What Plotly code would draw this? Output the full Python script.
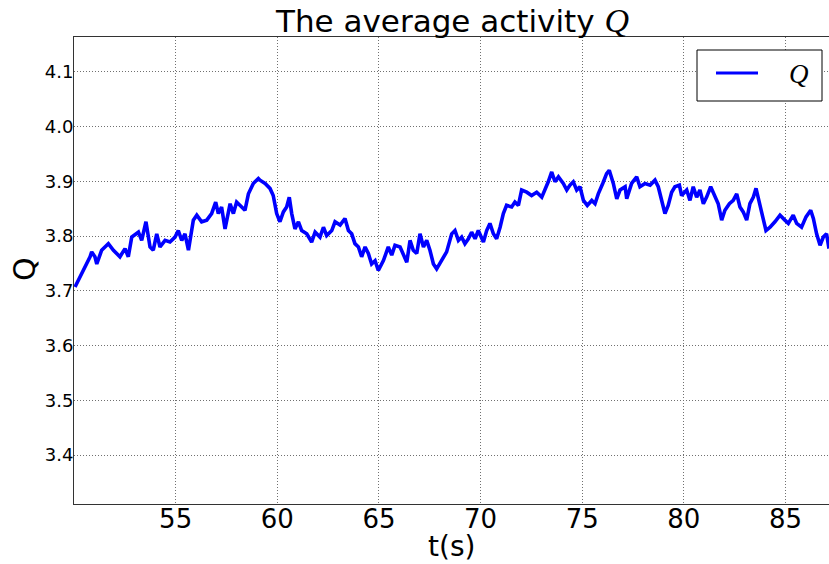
import plotly.graph_objects as go

# Time stamps (s) and average activity Q
t = [
    50.05, 50.30, 50.54, 50.79, 50.87, 51.03, 51.12, 51.36, 51.69, 51.94,
    52.26, 52.51, 52.67, 52.84, 53.17, 53.33, 53.54, 53.74, 53.90, 54.07,
    54.23, 54.48, 54.72, 54.97, 55.13, 55.30, 55.46, 55.63, 55.87, 56.04,
    56.28, 56.53, 56.77, 56.97, 57.10, 57.26, 57.43, 57.68, 57.84, 58.00,
    58.25, 58.41, 58.58, 58.82, 59.07,
    59.15, 59.40, 59.64, 59.80, 59.97, 60.13, 60.30, 60.46, 60.59, 60.71,
    60.87, 61.04, 61.20, 61.45, 61.69, 61.86, 62.10, 62.27, 62.43, 62.68,
    62.84, 63.09, 63.33, 63.50, 63.66, 63.82, 63.99, 64.15, 64.32, 64.48,
    64.64, 64.81, 64.97, 65.22, 65.46, 65.63, 65.79, 66.04, 66.37, 66.53,
    66.69, 66.86, 67.02, 67.19, 67.35, 67.51, 67.68, 67.84, 68.09, 68.33,
    68.58, 68.74, 68.91,
    69.07, 69.23, 69.40, 69.56, 69.73, 69.89, 70.14, 70.30, 70.46, 70.63,
    70.79, 70.96, 71.12, 71.28, 71.53, 71.69, 71.86, 72.02, 72.27, 72.51,
    72.76, 73.01, 73.17, 73.33, 73.50, 73.66, 73.83, 74.07, 74.24, 74.40,
    74.56, 74.73, 74.89, 75.06, 75.25, 75.47, 75.63, 75.79, 76.01, 76.20,
    76.33, 76.53, 76.70, 76.86, 77.11, 77.19, 77.43, 77.68, 77.84, 78.09,
    78.34,
    78.58, 78.74, 78.91, 79.07, 79.23, 79.40, 79.56, 79.78, 79.89, 80.14,
    80.30, 80.46, 80.63, 80.79, 80.96, 81.12, 81.32, 81.53, 81.69, 81.86,
    82.02, 82.24, 82.43, 82.60, 82.76, 82.92, 83.09, 83.25, 83.42, 83.55,
    83.71, 83.88, 84.04, 84.24, 84.48, 84.73, 84.97, 85.14, 85.38, 85.55,
    85.79, 86.01, 86.24, 86.37, 86.53, 86.70, 86.86, 87.02, 87.14,
]
Q = [
    3.707, 3.725, 3.743, 3.762, 3.771, 3.762, 3.749, 3.774, 3.786, 3.774,
    3.762, 3.777, 3.762, 3.798, 3.807, 3.792, 3.826, 3.780, 3.774, 3.804,
    3.780, 3.792, 3.789, 3.798, 3.810, 3.792, 3.804, 3.774, 3.829, 3.838,
    3.826, 3.829, 3.841, 3.862, 3.841, 3.853, 3.813, 3.859, 3.841, 3.862,
    3.853, 3.847, 3.877, 3.896, 3.905,
    3.902, 3.896, 3.887, 3.874, 3.841, 3.826, 3.844, 3.853, 3.871, 3.841,
    3.813, 3.826, 3.810, 3.804, 3.789, 3.807, 3.798, 3.816, 3.801, 3.810,
    3.826, 3.820, 3.832, 3.810, 3.804, 3.786, 3.780, 3.762, 3.780, 3.768,
    3.749, 3.755, 3.737, 3.755, 3.780, 3.765, 3.783, 3.780, 3.752, 3.792,
    3.774, 3.768, 3.804, 3.780, 3.792, 3.774, 3.749, 3.740, 3.755, 3.771,
    3.804, 3.810, 3.792,
    3.798, 3.786, 3.795, 3.807, 3.795, 3.810, 3.789, 3.810, 3.823, 3.804,
    3.795, 3.816, 3.841, 3.856, 3.853, 3.862, 3.856, 3.884, 3.880, 3.874,
    3.880, 3.871, 3.884, 3.899, 3.917, 3.899, 3.908, 3.896, 3.884, 3.893,
    3.899, 3.884, 3.890, 3.865, 3.856, 3.865, 3.859, 3.877, 3.896, 3.914,
    3.920, 3.896, 3.868, 3.884, 3.890, 3.868, 3.896, 3.908, 3.890, 3.896,
    3.893,
    3.902, 3.890, 3.865, 3.841, 3.856, 3.880, 3.890, 3.893, 3.874, 3.884,
    3.865, 3.890, 3.871, 3.884, 3.859, 3.871, 3.890, 3.871, 3.859, 3.829,
    3.847, 3.859, 3.865, 3.877, 3.853, 3.844, 3.829, 3.859, 3.871, 3.887,
    3.859, 3.835, 3.810, 3.816, 3.826, 3.838, 3.829, 3.823, 3.838, 3.823,
    3.816, 3.835, 3.847, 3.832, 3.804, 3.783, 3.798, 3.804, 3.777,
]

x_ticks = [55, 60, 65, 70, 75, 80, 85]
y_ticks = [3.4, 3.5, 3.6, 3.7, 3.8, 3.9, 4.0, 4.1]
x_range = [50.0, 87.14]
y_range = [3.3105, 4.1635]

SANS = "DejaVu Sans"
SERIF = "Liberation Serif"

fig = go.Figure()
fig.add_trace(go.Scatter(
    x=t, y=Q, mode="lines", name="Q",
    line=dict(color="#0000ff", width=3.6),
    showlegend=False,
))

axis_common = dict(
    showgrid=True, gridcolor="#707070", griddash="1px,2px", gridwidth=1,
    zeroline=False, showline=True, linecolor="#333333", linewidth=1,
    ticks="",
)

fig.update_layout(
    width=829, height=564,
    margin=dict(l=74, r=0, t=37, b=60),
    paper_bgcolor="white", plot_bgcolor="white",
    xaxis=dict(range=x_range, tickvals=x_ticks,
               ticktext=[str(v) for v in x_ticks],
               mirror=True, ticklabelstandoff=-8,
               tickfont=dict(family=SANS, size=26, color="black"),
               **axis_common),
    yaxis=dict(range=y_range, tickvals=y_ticks,
               ticktext=[f"{v:.1f}" for v in y_ticks],
               mirror=False, ticklabelstandoff=-4,
               tickfont=dict(family=SANS, size=18, color="black"),
               **axis_common),
)

# Title and axis labels
fig.add_annotation(
    text=("The average activity "
          f"<span style=\"font-family:'{SERIF}';font-size:34px\"><i>Q</i></span>"),
    xref="paper", yref="paper", x=0.5, y=1 + 16 / 467,
    xanchor="center", yanchor="middle", showarrow=False,
    font=dict(family=SANS, size=31, color="black"),
)
fig.add_annotation(
    text="t(s)", xref="paper", yref="paper", x=0.5, y=-42 / 467,
    xanchor="center", yanchor="middle", showarrow=False,
    font=dict(family=SANS, size=28, color="black"),
)
fig.add_annotation(
    text="Q", xref="paper", yref="paper", x=-50 / 755, y=(504 - 269) / 467,
    xanchor="center", yanchor="middle", showarrow=False, textangle=-90,
    font=dict(family=SANS, size=30, color="black"),
)

# Legend box drawn in paper coordinates
def px(xp):
    return (xp - 74) / 755

def py(yp):
    return (504 - yp) / 467

fig.add_shape(type="rect", xref="paper", yref="paper",
              x0=px(697), x1=px(822), y0=py(101), y1=py(50),
              line=dict(color="black", width=1), fillcolor="white", layer="above")
fig.add_shape(type="line", xref="paper", yref="paper",
              x0=px(716), x1=px(758), y0=py(73), y1=py(73),
              line=dict(color="#0000ff", width=3), layer="above")
fig.add_annotation(
    text="<i>Q</i>", xref="paper", yref="paper", x=px(799), y=py(74),
    xanchor="center", yanchor="middle", showarrow=False,
    font=dict(family=SERIF, size=27, color="black"),
)

fig.write_html("out.html")
